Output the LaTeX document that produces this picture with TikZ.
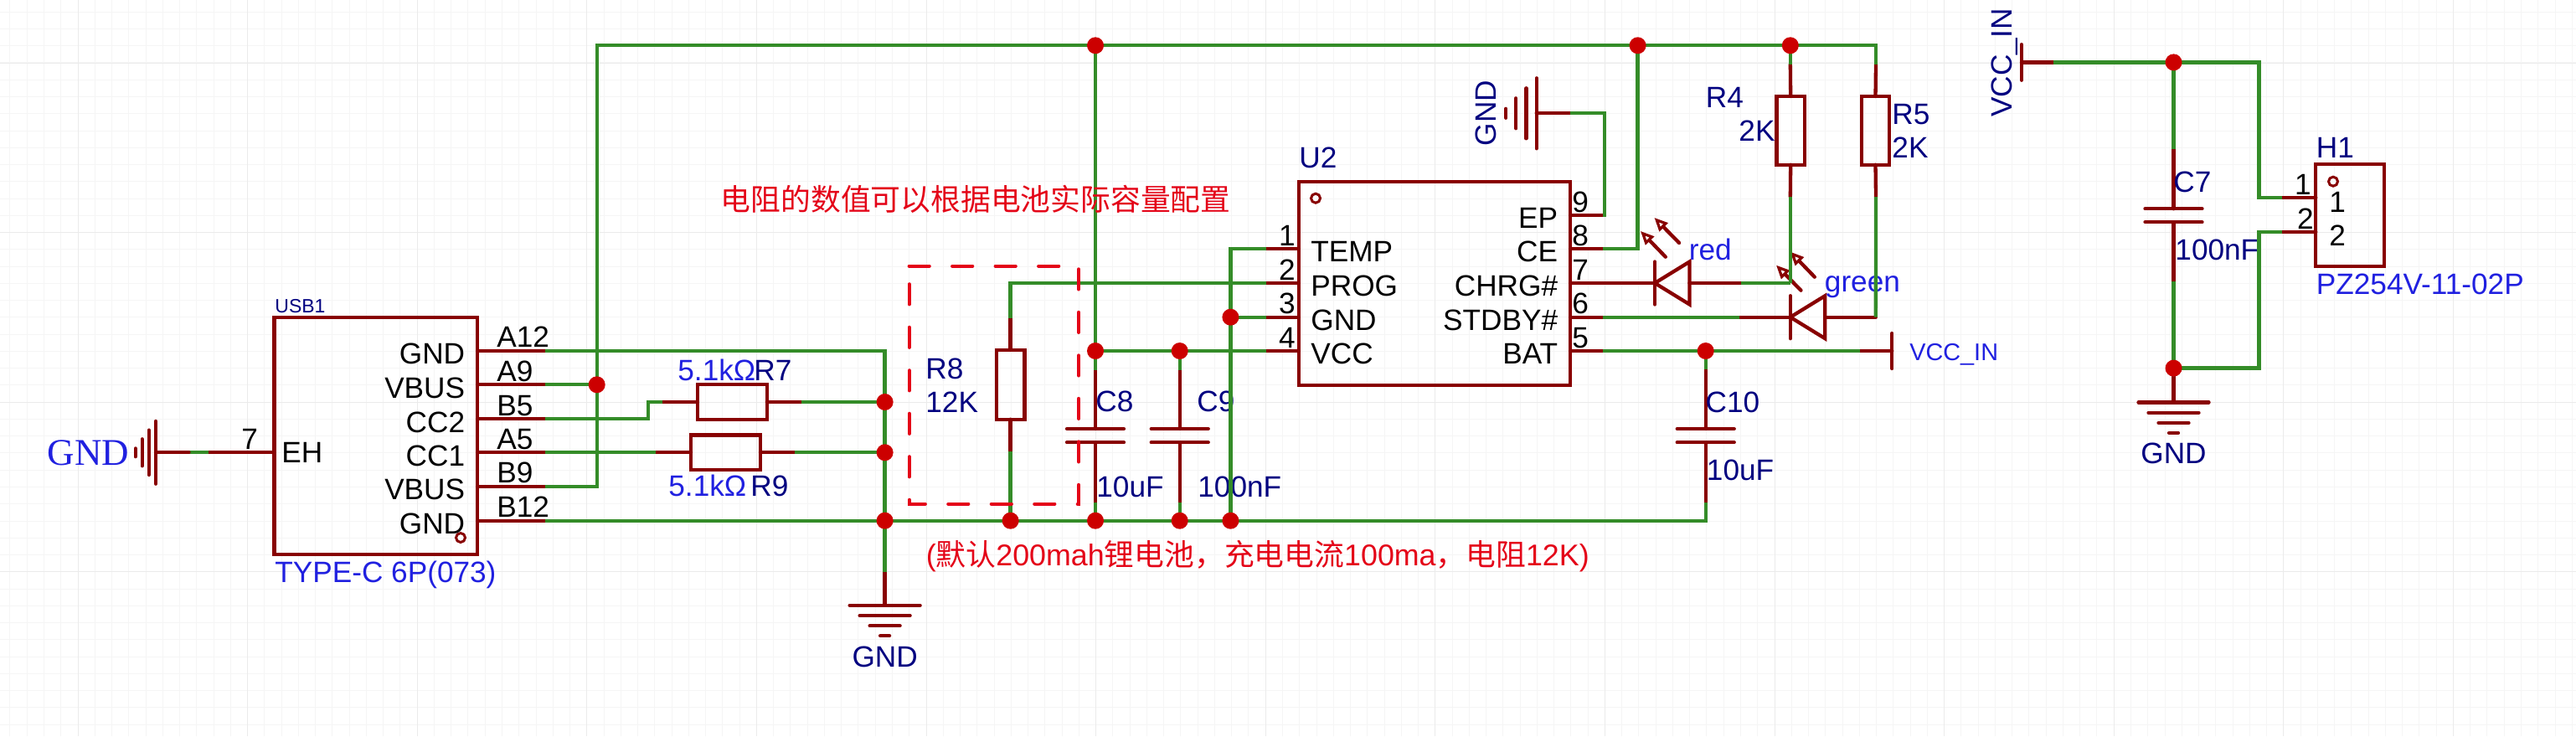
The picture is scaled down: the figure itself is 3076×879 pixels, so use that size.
\documentclass[tikz,border=0pt]{standalone}
\usepackage{fontspec}
\setmainfont{Liberation Sans}
\newfontfamily\gndserif{Liberation Serif}
\newfontfamily\cjk{Noto Sans CJK SC}
\usetikzlibrary{arrows.meta}

\definecolor{wiregreen}{RGB}{52,140,40}
\definecolor{pinred}{RGB}{136,0,0}
\definecolor{dotred}{RGB}{204,0,0}
\definecolor{refnavy}{RGB}{0,0,128}
\definecolor{valblue}{RGB}{32,32,224}
\definecolor{notered}{RGB}{228,4,24}

\tikzset{
	gridminor/.style={color=black!4,line width=0.5pt},
	gridmajor/.style={color=black!8,line width=0.5pt},
	wire/.style={color=wiregreen,line width=2.15pt},
	pin/.style={color=pinred,line width=2.15pt,line cap=round},
	partbox/.style 2 args={draw=pinred,line width=2.15pt,inner sep=0pt,outer sep=0pt,
		minimum width=#1*0.5pt,minimum height=#2*0.5pt},
	dot/.style={circle,fill=dotred,inner sep=0pt,minimum size=10pt},
	keydot/.style={circle,draw=pinred,line width=1.5pt,inner sep=0pt,minimum size=5.5pt},
	framenote/.style={color=notered,line width=2.1pt,line cap=round,dash pattern=on 12pt off 13.75pt},
	pinlbl/.style={inner sep=0pt,text=black,font=\fontsize{17.6}{18}\selectfont},
	reflbl/.style={inner sep=0pt,text=refnavy,font=\fontsize{17.6}{18}\selectfont},
	vallbl/.style={inner sep=0pt,text=valblue,font=\fontsize{17.6}{18}\selectfont},
	rednote/.style={inner sep=0pt,text=notered,font=\fontsize{17.9}{18}\selectfont},
	ledray/.style={color=pinred,line width=2.15pt,line cap=round,-{Triangle[open,length=8pt,width=7pt,line width=1.6pt]}},
}

\begin{document}
\begin{tikzpicture}[x=0.5pt,y=-0.5pt]

	\newcommand\VCap[6]{
		\coordinate (#1t) at (#2,#3);
		\coordinate (#1u) at (#2,#4);
		\coordinate (#1d) at (#2,#5);
		\coordinate (#1b) at (#2,#6);
		\draw[pin] (#1t) -- (#1u) ++(-34,0) -- ++(68,0);
		\draw[pin] (#1b) -- (#1d) ++(-34,0) -- ++(68,0);
	}
	\newcommand\GndSym[2]{
		\begin{scope}[shift={(#1)},#2]
			\draw[pin] (-42,0) -- (42,0);
			\draw[pin] (-30,12.3) -- (30,12.3);
			\draw[pin] (-18,24.5) -- (18,24.5);
			\draw[pin] (-5.5,36.5) -- (5.5,36.5);
		\end{scope}
	}
	\newcommand\LedSym[3]{
		\coordinate (#1k) at (#2,#3);
		\coordinate (#1a) at (#2+41.5,#3);
		\draw[pin] (#1k) ++(0,-25.5) -- ++(0,51);
		\draw[pin] (#1k) -- ++(41.5,-25.5) -- ++(0,51) -- cycle;
	}

	\useasboundingbox (0,0) rectangle (3076,879);
	\fill[white] (0,0) rectangle (3076,879);

	\foreach \i in {0,...,151} \draw[gridminor] (\i*20.26+11.96,0) -- (\i*20.26+11.96,879);
	\foreach \i in {0,...,43} \draw[gridminor] (0,\i*20.26+14.2) -- (3076,\i*20.26+14.2);
	\foreach \i in {0,...,15} \draw[gridmajor] (\i*202.6+93,0) -- (\i*202.6+93,879);
	\foreach \i in {0,...,4} \draw[gridmajor] (0,\i*202.6+75) -- (3076,\i*202.6+75);

	\coordinate (ja9) at (712.7,459.3);
	\coordinate (jtopa) at (1308,54.3);
	\coordinate (jtopb) at (1955.6,54.3);
	\coordinate (jtopc) at (2137.8,54.3);
	\coordinate (jr7) at (1056.6,480);
	\coordinate (jr9) at (1056.6,540.3);
	\coordinate (jgnd) at (1056.6,621.7);
	\coordinate (jr8) at (1206.6,621.7);
	\coordinate (jc8b) at (1308,621.7);
	\coordinate (jc9b) at (1408.7,621.7);
	\coordinate (jrail) at (1469.4,621.7);
	\coordinate (jc8t) at (1308,419);
	\coordinate (jc9t) at (1408.7,419);
	\coordinate (jgnd3) at (1469.4,378.7);
	\coordinate (jc10) at (2036.7,419);
	\coordinate (jvin) at (2595.5,74.4);
	\coordinate (jc7) at (2595.5,439.6);

\begin{scope}
	\node[partbox={242.5}{282.7}] (usb) at (448.75,520.35) {};
	\node[keydot] (usbkey) at (550,642) {};
	\node[reflbl,anchor=base west,font=\fontsize{11.5}{12}\selectfont] (usbref) at (328,373) {USB1};
	\node[vallbl,anchor=base west] (usbval) at (328,695) {TYPE-C 6P(073)};
	\foreach \pn/\nm/\yy in {A12/GND/418.7,A9/VBUS/459.3,B5/CC2/500,A5/CC1/540.3,B9/VBUS/580.7,B12/GND/621.7} {
		\coordinate (p\pn) at (651,\yy);
		\draw[pin] (usb.east |- p\pn) -- (p\pn);
		\node[pinlbl,anchor=base west] (n\pn) at (593,\yy-4) {\pn};
		\node[pinlbl,anchor=base east] (l\pn) at (555.5,\yy+16) {\nm};
	}
	\coordinate (ehw) at (248.5,540.3);
	\coordinate (ehg) at (225.5,540.3);
	\coordinate (gndl) at (186,540.3);
	\draw[pin] (usb.west |- ehw) -- (ehw);
	\draw[wire] (ehw) -- (ehg);
	\draw[pin] (ehg) -- (gndl);
	\GndSym{gndl}{rotate=-90,xscale=0.89,yscale=0.667}
	\node[pinlbl,anchor=base west] (n7) at (288,536.7) {7};
	\node[pinlbl,anchor=base west] (eh) at (336,552) {EH};
	\node[anchor=east,inner sep=0pt,text=valblue,font=\fontsize{22.5}{23}\gndserif] (gndltxt) at (154.6,541) {GND};
\end{scope}

\begin{scope}
	\node[partbox={82.8}{41.4}] (R7) at (874.4,480) {};
	\node[partbox={82.8}{41.4}] (R9) at (866.5,540.3) {};
	\coordinate (r7l) at (791,480);
	\coordinate (r7r) at (957,480);
	\coordinate (r9l) at (783,540.3);
	\coordinate (r9r) at (949,540.3);
	\coordinate (cb5) at (774,480);
	\draw[pin] (r7l) -- (R7.west);
	\draw[pin] (R7.east) -- (r7r);
	\draw[pin] (r9l) -- (R9.west);
	\draw[pin] (R9.east) -- (r9r);
	\node[vallbl,anchor=base west] (r7val) at (809,454) {5.1kΩ};
	\node[reflbl,anchor=base west] (r7ref) at (900,454) {R7};
	\node[vallbl,anchor=base west] (r9val) at (798,592.7) {5.1kΩ};
	\node[reflbl,anchor=base west] (r9ref) at (896,592.7) {R9};

	\node[partbox={33.5}{82.7}] (R8) at (1206.6,459.35) {};
	\coordinate (r8t) at (1206.6,380);
	\coordinate (r8b) at (1206.6,539);
	\draw[pin] (r8t) -- (R8.north);
	\draw[pin] (R8.south) -- (r8b);
	\node[reflbl,anchor=base west] (r8ref) at (1105,452) {R8};
	\node[reflbl,anchor=base west] (r8val) at (1105,492.7) {12K};

	\VCap{c8}{1308}{441.7}{512}{528.3}{600}
	\VCap{c9}{1408.7}{441.7}{512}{528.3}{600}
	\VCap{c10}{2036.7}{441}{512}{528.3}{600}
	\node[reflbl,anchor=base west] (c8ref) at (1308,491.7) {C8};
	\node[reflbl,anchor=base west] (c8val) at (1309,593.3) {10uF};
	\node[reflbl,anchor=base west] (c9ref) at (1429,491.7) {C9};
	\node[reflbl,anchor=base west] (c9val) at (1430,593.3) {100nF};
	\node[reflbl,anchor=base west] (c10ref) at (2036.3,492.3) {C10};
	\node[reflbl,anchor=base west] (c10val) at (2037.5,573.3) {10uF};

	\coordinate (g1t) at (1056.6,683);
	\coordinate (g1s) at (1056.6,722.7);
	\draw[pin] (g1t) -- (g1s);
	\GndSym{g1s}{}
	\node[reflbl] (g1txt) at (1056.6,784) {GND};
\end{scope}

\begin{scope}
	\node[partbox={324}{243.3}] (U2) at (1713,338.35) {};
	\node[keydot] (u2key) at (1571,236.7) {};
	\node[reflbl,anchor=base west] (u2ref) at (1551,200.7) {U2};
	\foreach \nn/\nm/\yy in {1/TEMP/297.3,2/PROG/338,3/GND/378.7,4/VCC/419} {
		\coordinate (u\nn) at (1511.7,\yy);
		\draw[pin] (U2.west |- u\nn) -- (u\nn);
		\node[pinlbl,anchor=base east] (un\nn) at (1547,\yy-4) {\nn};
		\node[pinlbl,anchor=base west] (ul\nn) at (1565,\yy+15.5) {\nm};
	}
	\foreach \nn/\nm/\yy in {5/BAT/419,6/STDBY\#/378.7,7/CHRG\#/338,8/CE/297.3,9/EP/257} {
		\coordinate (u\nn) at (1914,\yy);
		\draw[pin] (U2.east |- u\nn) -- (u\nn);
		\node[pinlbl,anchor=base west] (un\nn) at (1877,\yy-4) {\nn};
		\node[pinlbl,anchor=base east] (ul\nn) at (1860.5,\yy+15.5) {\nm};
	}

	\coordinate (cgndt) at (1915.8,135.3);
	\coordinate (gtw) at (1875,135.3);
	\coordinate (gts) at (1834.7,135.3);
	\draw[pin] (gtw) -- (gts);
	\GndSym{gts}{rotate=-90}
	\node[reflbl,rotate=90] (gttxt) at (1774,135) {GND};

	\node[partbox={33.6}{81.7}] (R4) at (2138.2,155.85) {};
	\node[partbox={33}{81.7}] (R5) at (2239.5,155.85) {};
	\coordinate (r4t) at (2137.8,76.7);
	\coordinate (r4b) at (2137.8,235);
	\coordinate (r5t) at (2240,76.7);
	\coordinate (r5b) at (2240,235);
	\draw[pin] (r4t) -- (R4.north);
	\draw[pin] (R4.south) -- (r4b);
	\draw[pin] (r5t) -- (R5.north);
	\draw[pin] (R5.south) -- (r5b);
	\node[reflbl,anchor=base west] (r4ref) at (2036.5,128.3) {R4};
	\node[reflbl,anchor=base west] (r4val) at (2076,168.3) {2K};
	\node[reflbl,anchor=base west] (r5ref) at (2259,148.3) {R5};
	\node[reflbl,anchor=base west] (r5val) at (2259,188.3) {2K};

	\LedSym{d1}{1976}{338}
	\LedSym{d2}{2137.8}{378.7}
	\coordinate (d1p) at (2079,338);
	\coordinate (cr4) at (2137.8,338);
	\coordinate (d2w) at (2076.5,378.7);
	\coordinate (cr5) at (2239.8,378.7);
	\coordinate (vint) at (2220.7,419);
	\coordinate (vbar) at (2259.3,419);
	\draw[pin] (u7) -- (d1k);
	\draw[pin] (d1a) -- (d1p);
	\draw[pin] (d2w) -- (d2k);
	\draw[pin] (d2a) -- (cr5);
	\draw[pin] (vint) -- (vbar) ++(0,-21) -- ++(0,42);
	\foreach \n/\ax/\ay/\bx/\by in {a/1988.8/306.7/1959/276,b/2005/290/1975.5/260,c/2150.5/346.7/2121/316.7,d/2166.8/330.7/2137.8/300.7} {
		\coordinate (ray\n s) at (\ax,\ay);
		\coordinate (ray\n e) at (\bx,\by);
		\draw[ledray] (ray\n s) -- (ray\n e);
	}
	\node[vallbl,anchor=base west] (d1val) at (2016.5,310) {red};
	\node[vallbl,anchor=base west] (d2val) at (2178.5,348) {green};
	\node[vallbl,anchor=base west,font=\fontsize{14.4}{15}\selectfont] (vintxt) at (2280,430.7) {VCC\_IN};
\end{scope}

\begin{scope}
	\node[partbox={81.7}{121.5}] (H1) at (2806.15,257.05) {};
	\node[keydot] (h1key) at (2786,216.7) {};
	\coordinate (h1p) at (2724.8,236.3);
	\coordinate (h2p) at (2724.8,277);
	\coordinate (cc1) at (2697.5,236.3);
	\coordinate (cc2) at (2697.5,277);
	\coordinate (vb) at (2413.9,74.4);
	\coordinate (vp) at (2452,74.4);
	\coordinate (g2s) at (2595.5,480.4);
	\draw[pin] (h1p) -- (H1.west |- h1p);
	\draw[pin] (h2p) -- (H1.west |- h2p);
	\draw[pin] (vp) -- (vb) ++(0,-21.3) -- ++(0,42.6);
	\draw[pin] (jc7) -- (g2s);
	\GndSym{g2s}{}
	\VCap{c7}{2595.5}{177.8}{249.3}{265.2}{336.3}
	\node[pinlbl,anchor=base east] (hn1) at (2760,232.6) {1};
	\node[pinlbl,anchor=base east] (hn2) at (2763,273) {2};
	\node[pinlbl,anchor=base west] (hl1) at (2781,253.7) {1};
	\node[pinlbl,anchor=base west] (hl2) at (2781,293.7) {2};
	\node[reflbl,anchor=base west] (h1ref) at (2765.5,188.9) {H1};
	\node[vallbl,anchor=base west] (h1val) at (2765.5,351) {PZ254V-11-02P};
	\node[reflbl,anchor=base west] (c7ref) at (2595,229.6) {C7};
	\node[reflbl,anchor=base west] (c7val) at (2597,310.4) {100nF};
	\node[reflbl] (g2txt) at (2595.5,541) {GND};
	\node[reflbl,rotate=90] (vintop) at (2394,75) {VCC\_IN};
\end{scope}

\coordinate (ctop) at (712.7,54.3);
\coordinate (cr5top) at (2240,54.3);
\draw[wire] (pB9) -| (ctop) -- (cr5top) -- (r5t);
\draw[wire] (pA9) -- (ja9);
\draw[wire] (pA12) -| (g1t);
\draw[wire] (pB12) -| (c10b);
\draw[wire] (pB5) -| (cb5) -- (r7l);
\draw[wire] (pA5) -- (r9l);
\draw[wire] (r7r) -- (jr7);
\draw[wire] (r9r) -- (jr9);
\draw[wire] (r8t) |- (u2);
\draw[wire] (r8b) -- (jr8);
\draw[wire] (jtopa) -- (c8t);
\draw[wire] (c8b) -- (jc8b);
\draw[wire] (jc9t) -- (c9t);
\draw[wire] (c9b) -- (jc9b);
\draw[wire] (jc8t) -- (u4);
\draw[wire] (u1) -| (jrail);
\draw[wire] (jgnd3) -- (u3);
\draw[wire] (u9) -| (cgndt) -- (gtw);
\draw[wire] (u8) -| (jtopb);
\draw[wire] (u6) -- (d2w);
\draw[wire] (d1p) -- (cr4);
\draw[wire] (jtopc) -- (r4t);
\draw[wire] (r4b) -- (cr4);
\draw[wire] (r5b) -- (cr5);
\draw[wire] (u5) -- (vint);
\draw[wire] (jc10) -- (c10t);
\draw[wire] (vp) -| (cc1) -- (h1p);
\draw[wire] (jc7) -| (cc2) -- (h2p);
\draw[wire] (jvin) -- (c7t);
\draw[wire] (c7b) -- (jc7);

\draw[framenote] (1085.7,317.7) -- (1288,317.7) -- (1288,601.7) -- (1085.7,601.7) -- cycle;

\foreach \j in {ja9,jtopa,jtopb,jtopc,jr7,jr9,jgnd,jr8,jc8b,jc9b,jrail,jc8t,jc9t,jgnd3,jc10,jvin,jc7}
	\node[dot] (d\j) at (\j) {};

\node[rednote,anchor=base west] (cfgnote) at (860.5,251) {\cjk 电阻的数值可以根据电池实际容量配置};
\node[rednote,anchor=base west] (defnote) at (1105.5,675) {({\cjk 默认}200mah{\cjk 锂电池，充电电流}100ma{\cjk ，电阻}12K)};

\end{tikzpicture}
\end{document}
